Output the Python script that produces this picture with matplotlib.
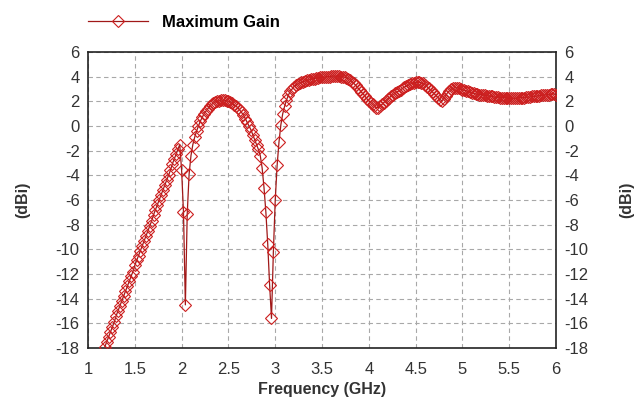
import numpy as np
import matplotlib
matplotlib.use('Agg')
import matplotlib.pyplot as plt

plt.rcParams['font.family'] = ['Liberation Sans', 'DejaVu Sans']
plt.rcParams['axes.unicode_minus'] = False

# sweep 1.18 .. 6.00 GHz, 0.02 GHz step
freq_start, freq_stop, freq_step = 1.18, 6.00, 0.02
freq = np.round(np.arange(freq_start, freq_stop + freq_step / 2, freq_step), 2)

gain = [
    # 1.18 - 1.98
    -17.9, -17.5, -17.1, -16.7, -16.3, -15.9, -15.4, -15.0, -14.6, -14.2,
    -13.8, -13.4, -13.0, -12.6, -12.2, -11.8, -11.3, -10.9, -10.5, -10.1,
    -9.7, -9.3, -8.9, -8.5, -8.1, -7.7, -7.2, -6.8, -6.4, -6.0,
    -5.6, -5.2, -4.8, -4.4, -4.0, -3.6, -3.1, -2.7, -2.3, -1.9,
    -1.5,
    # 2.00 - 2.98
    -3.6, -7.0, -14.5, -7.1, -3.9, -2.4, -1.5, -0.9, -0.4, 0.0,
    0.4, 0.7, 1.0, 1.2, 1.4, 1.6, 1.75, 1.85, 1.95, 2.0,
    2.05, 2.1, 2.1, 2.1, 2.05, 2.0, 1.95, 1.85, 1.7, 1.6,
    1.5, 1.3, 1.1, 0.9, 0.6, 0.3, 0.0, -0.3, -0.7, -1.1,
    -1.5, -1.9, -2.4, -3.4, -5.0, -7.0, -9.6, -12.9, -15.6, -10.2,
    # 3.00 - 3.98
    -6.0, -3.2, -1.3, 0.1, 1.0, 1.6, 2.1, 2.5, 2.8, 3.0,
    3.2, 3.3, 3.4, 3.5, 3.55, 3.6, 3.65, 3.7, 3.75, 3.8,
    3.85, 3.85, 3.9, 3.9, 3.95, 3.95, 3.95, 4.0, 4.0, 4.0,
    4.05, 4.05, 4.05, 4.05, 4.05, 4.0, 4.0, 3.95, 3.9, 3.85,
    3.75, 3.6, 3.45, 3.3, 3.1, 2.95, 2.75, 2.6, 2.4, 2.2,
    # 4.00 - 4.98
    2.05, 1.9, 1.75, 1.6, 1.5, 1.5, 1.6, 1.75, 1.9, 2.05,
    2.2, 2.3, 2.45, 2.55, 2.65, 2.75, 2.85, 2.95, 3.05, 3.15,
    3.25, 3.3, 3.4, 3.45, 3.5, 3.55, 3.55, 3.55, 3.5, 3.45,
    3.35, 3.2, 3.05, 2.9, 2.75, 2.6, 2.45, 2.3, 2.15, 2.05,
    2.2, 2.45, 2.7, 2.85, 3.0, 3.05, 3.1, 3.1, 3.05, 3.0,
    # 5.00 - 6.00
    2.95, 2.9, 2.85, 2.8, 2.75, 2.7, 2.65, 2.6, 2.6, 2.55,
    2.55, 2.5, 2.5, 2.45, 2.45, 2.4, 2.4, 2.35, 2.35, 2.35,
    2.3, 2.3, 2.3, 2.3, 2.25, 2.25, 2.25, 2.25, 2.25, 2.25,
    2.3, 2.3, 2.3, 2.3, 2.35, 2.35, 2.35, 2.4, 2.4, 2.4,
    2.45, 2.45, 2.5, 2.5, 2.5, 2.55, 2.55, 2.6, 2.6, 2.6,
    2.55,
]

x_ticks = [1, 1.5, 2, 2.5, 3, 3.5, 4, 4.5, 5, 5.5, 6]
x_tick_labels = ['1', '1.5', '2', '2.5', '3', '3.5', '4', '4.5', '5', '5.5', '6']
y_ticks = list(range(-18, 7, 2))

txt = '#333333'

fig = plt.figure(figsize=(6.39, 4.08), dpi=100)
ax = fig.add_axes([0.1377, 0.147, 0.7326, 0.7255])

line, = ax.plot(freq, gain, color='#a01818', lw=0.9, marker='D', markersize=6,
                markerfacecolor='none', markeredgecolor='#cc1f1f', markeredgewidth=0.8,
                label='Maximum Gain', zorder=3)

ax.set_xlim(1, 6)
ax.set_ylim(-18, 6)
ax.set_xticks(x_ticks)
ax.set_xticklabels(x_tick_labels)
ax.set_yticks(y_ticks)
ax.grid(True, color='#a8a8a8', linestyle=(0, (4, 3)), linewidth=0.8)
ax.tick_params(length=0, labelsize=12, labelcolor=txt, pad=6)
ax.tick_params(axis='x', pad=10)
for sp in ax.spines.values():
    sp.set_linewidth(1.2)
    sp.set_color('#222222')

ax.set_xlabel('Frequency (GHz)', fontsize=11.5, fontweight='bold', color=txt, labelpad=4)
ax.set_ylabel('(dBi)', fontsize=11.5, fontweight='bold', color=txt, labelpad=18)

# mirrored scale on the right
ax2 = ax.twinx()
ax2.set_ylim(-18, 6)
ax2.set_yticks(y_ticks)
ax2.tick_params(length=0, labelsize=12, labelcolor=txt, pad=6)
ax2.set_ylabel('(dBi)', fontsize=11.5, fontweight='bold', color=txt, labelpad=22)
for sp in ax2.spines.values():
    sp.set_visible(False)

fig.legend(handles=[line], loc='upper left', bbox_to_anchor=(0.115, 1.0),
           frameon=False, handlelength=3.6, prop={'weight': 'bold', 'size': 12})

fig.savefig('out.png', dpi=100, facecolor='white')
